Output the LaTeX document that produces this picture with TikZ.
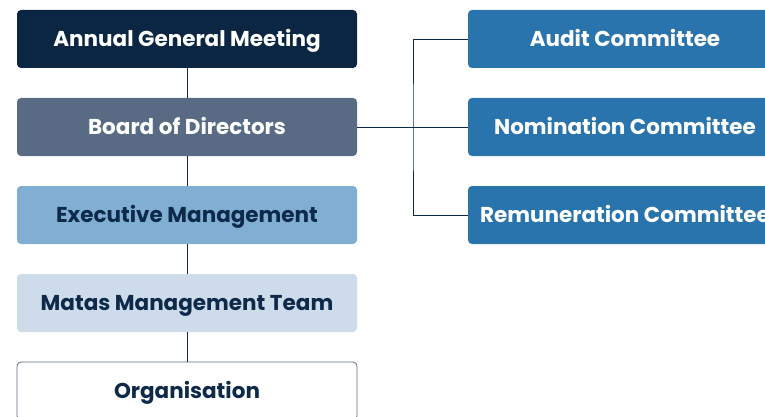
\documentclass[tikz,border=0pt]{standalone}
\usepackage{fontspec}
\setmainfont{Poppins}
\definecolor{navy}{HTML}{0B2642}
\definecolor{slate}{HTML}{596B84}
\definecolor{skyblue}{HTML}{80AFD3}
\definecolor{paleblue}{HTML}{CDDBEA}
\definecolor{midblue}{HTML}{2A74AE}
\definecolor{inktext}{HTML}{0D2A4A}
\definecolor{rimgray}{HTML}{5A6E85}
\begin{document}
\begin{tikzpicture}[x=1pt,y=1pt,
  orgbox/.style={rounded corners=4pt, minimum width=340pt, minimum height=58pt,
    inner sep=0pt, font=\bfseries\fontsize{21.5}{24}\selectfont, anchor=center,
    text height=15pt, text depth=0pt},
  cmtbox/.style={orgbox, minimum width=314pt, fill=midblue, text=white},
  link/.style={draw=inktext, line width=0.8pt}]
\useasboundingbox (0,0) rectangle (765,-417);
\clip (0,0) rectangle (765,-417);
% left column: governance chain
\node[orgbox, fill=navy, text=white] (agm) at (187,-39) {Annual General Meeting};
\node[orgbox, fill=slate, text=white] (board) at (187,-127) {Board of Directors};
\node[orgbox, fill=skyblue, text=inktext] (exec) at (187,-215) {Executive Management};
\node[orgbox, fill=paleblue, text=inktext] (mmt) at (187,-303) {Matas Management Team};
\node[orgbox, fill=white, draw=rimgray, line width=0.8pt, text=inktext] (org) at (187,-391) {Organisation};
% right column: board committees
\node[cmtbox] (audit) at (625,-39) {Audit Committee};
\node[cmtbox] (nom) at (625,-127) {Nomination Committee};
\node[cmtbox] (rem) at (625,-215) {Remuneration Committee};
% connectors
\draw[link] (agm.south) -- (board.north);
\draw[link] (board.south) -- (exec.north);
\draw[link] (exec.south) -- (mmt.north);
\draw[link] (mmt.south) -- (org.north);
\coordinate (fork) at (413,-127);
\draw[link] (board.east) -- (nom.west);
\draw[link] (audit.west) -| (fork) |- (rem.west);
\end{tikzpicture}
\end{document}
